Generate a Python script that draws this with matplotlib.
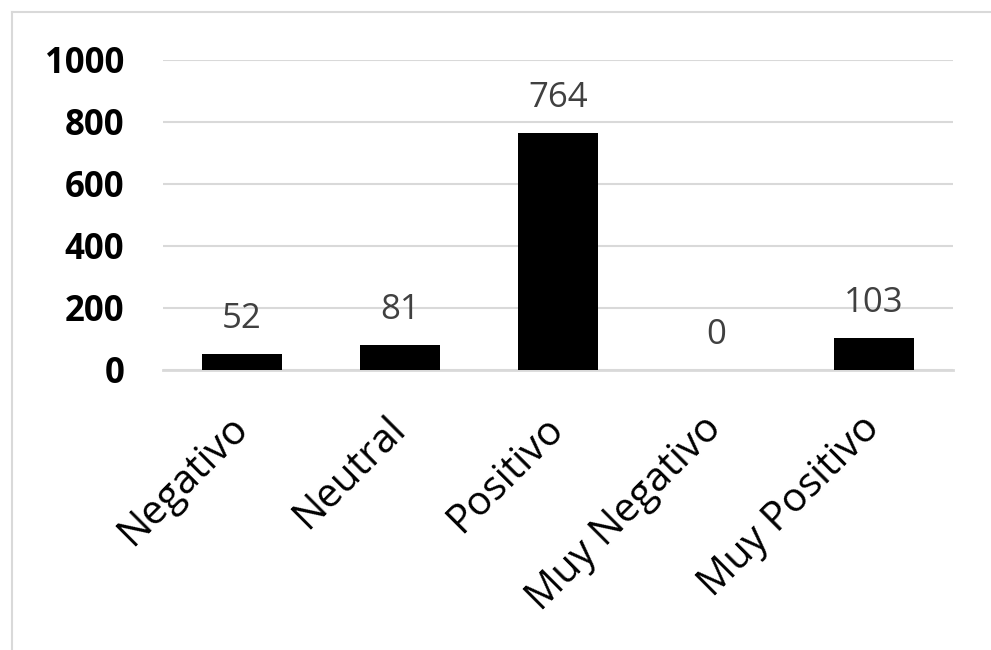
import matplotlib.pyplot as plt
from matplotlib.lines import Line2D

categorias = ['Negativo', 'Neutral', 'Positivo', 'Muy Negativo', 'Muy Positivo']
valores = [52, 81, 764, 0, 103]
y_ticks = [0, 200, 400, 600, 800, 1000]

plt.rcParams['font.family'] = ['Open Sans', 'DejaVu Sans']

fig = plt.figure(figsize=(9.91, 6.5), dpi=100)
ax = fig.add_axes([0.1645, 0.4308, 0.7972, 0.4769])

x = list(range(len(categorias)))
bars = ax.bar(x, valores, width=0.506, color='black', zorder=3)

for xi, v in zip(x, valores):
    ax.annotate(str(v), (xi, v), xytext=(0, 13), textcoords='offset points',
                ha='center', va='bottom', fontsize=25, color='#404040')

ax.set_xlim(-0.5, len(categorias) - 0.5)
ax.set_ylim(0, 1000)
ax.set_yticks(y_ticks)
ax.set_yticklabels([str(t) for t in y_ticks], fontsize=25, fontweight='bold')
ax.set_xticks(x)
ax.set_xticklabels(categorias, fontsize=29, rotation=45, ha='right',
                   va='center', rotation_mode='anchor')
ax.tick_params(axis='y', length=0, pad=28)
ax.tick_params(axis='x', length=0, pad=38)

ax.grid(axis='y', color='#d9d9d9', linewidth=1.5, zorder=0)
for s in ['top', 'right', 'left']:
    ax.spines[s].set_visible(False)
ax.spines['bottom'].set_color('#d9d9d9')
ax.spines['bottom'].set_linewidth(2)

# marco del gráfico
fig.add_artist(Line2D([12 / 991, 12 / 991], [0, 1 - 12 / 650], color='#d9d9d9', lw=1.5))
fig.add_artist(Line2D([12 / 991, 1], [1 - 12 / 650, 1 - 12 / 650], color='#d9d9d9', lw=1.5))

fig.savefig('out.png', dpi=100)
